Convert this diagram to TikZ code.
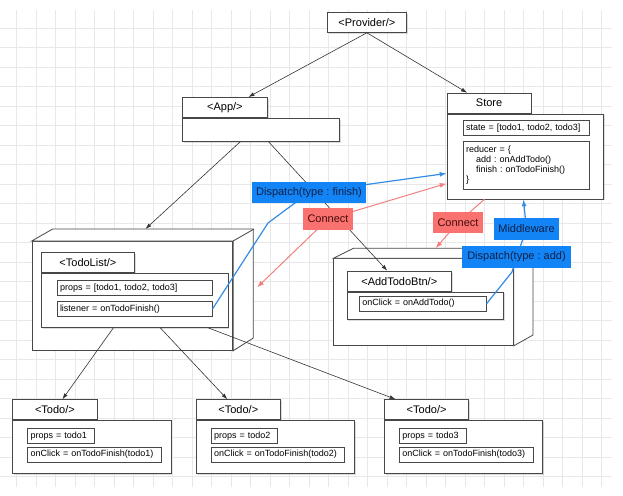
\documentclass[tikz,border=0pt]{standalone}
\usepackage{fontspec}
\setmainfont{Liberation Sans}
\frenchspacing
\usetikzlibrary{arrows.meta,shadows}
\definecolor{tagblue}{RGB}{18,132,245}
\definecolor{lineblue}{RGB}{52,140,228}
\definecolor{tagred}{RGB}{250,114,112}
\definecolor{linered}{RGB}{242,128,126}
\definecolor{tagtext}{RGB}{16,32,70}
\definecolor{redtext}{RGB}{70,12,12}

\begin{document}
\begin{tikzpicture}[x=1pt,y=-1pt,
            gridline/.style={draw=black!9,line width=0.5pt},
            boxline/.style={draw=black!72,line width=0.8pt,fill=white},
            softshadow/.style={drop shadow={opacity=0.28,shadow xshift=1.2pt,shadow yshift=-1.5pt}},
            tab/.style={boxline,softshadow,anchor=north west,inner sep=0pt,minimum height=20pt,font=\fontsize{11}{13}\selectfont},
            body/.style={boxline,softshadow,anchor=north west,inner sep=0pt},
            cube/.style={boxline,anchor=north west,inner sep=0pt},
            field/.style={draw=black!72,line width=0.6pt,fill=white,anchor=north west,inner sep=3pt,align=left,minimum height=15pt,font=\fontsize{9}{10}\selectfont},
            link/.style={draw=black!80,line width=0.6pt,-{Latex[length=6pt,width=4pt]}},
            bluelink/.style={draw=lineblue,line width=1.2pt},
            redlink/.style={draw=linered,line width=1pt},
            bluetag/.style={fill=tagblue,text=tagtext,inner xsep=4pt,inner ysep=0pt,minimum height=21.6pt,font=\fontsize{11}{13}\selectfont},
            redtag/.style={fill=tagred,text=redtext,inner xsep=4.5pt,inner ysep=0pt,minimum height=21.6pt,font=\fontsize{11}{13}\selectfont}]
            \useasboundingbox (0,0) rectangle (623,495);
            \foreach \gx in {0,...,30}
                \draw[gridline] ({16.7+19.5*\gx},10) -- ({16.7+19.5*\gx},487);
            \foreach \gy in {0,...,23}
                \draw[gridline] (0,{28+19.5*\gy}) -- (612,{28+19.5*\gy});

            \node[tab,minimum width=79pt] (provider) at (327,12) {<Provider/>};

            \node[tab,minimum width=85pt] (apptab) at (182,97) {<App/>};
            \node[body,minimum width=157pt,minimum height=23pt] (appbody) at (apptab.south west) {};

            \node[tab,minimum width=84pt] (storetab) at (446.7,92.7) {Store};
            \node[body,minimum width=156.6pt,minimum height=85pt] (storebody) at (storetab.south west) {};
            \node[field,text width=120.6pt] (state) at (462.7,120) {state = [todo1, todo2, todo3]};
            \node[field,text width=120.6pt,minimum height=48pt] (reducer) at (462.7,141)
                {reducer = \{\\\hspace*{10pt}add : onAddTodo()\\\hspace*{10pt}finish : onTodoFinish()\\\}};

            \node[cube,minimum width=200.6pt,minimum height=109pt] (listcube) at (31.7,241) {};
            \filldraw[boxline] (listcube.north west) -- ++(21,-12) -- ++(200.6,0) -- ++(0,109)
                -- (listcube.south east) -- (listcube.north east) -- cycle;
            \draw[boxline] (listcube.north east) -- ++(21,-12);
            \node[tab,minimum width=93pt] (listtab) at (41,252.3) {<TodoList/>};
            \node[body,minimum width=186.7pt,minimum height=54pt] (listbody) at (listtab.south west) {};
            \node[field,text width=149.3pt] (props) at (56.7,280) {props = [todo1, todo2, todo3]};
            \node[field,text width=149.3pt] (listener) at (56.7,301) {listener = onTodoFinish()};

            \node[cube,minimum width=179.7pt,minimum height=86.7pt] (addcube) at (333.3,258.3) {};
            \filldraw[boxline] (addcube.north west) -- ++(20,-10) -- ++(179.7,0) -- ++(0,86.7)
                -- (addcube.south east) -- (addcube.north east) -- cycle;
            \draw[boxline] (addcube.north east) -- ++(20,-10);
            \node[tab,minimum width=104.3pt] (addtab) at (346.7,270.7) {<AddTodoBtn/>};
            \node[body,minimum width=156.6pt,minimum height=27.3pt] (addbody) at (addtab.south west) {};
            \node[field,text width=121pt,minimum height=14.7pt] (onclick) at (359,296) {onClick = onAddTodo()};

            \foreach \tx/\tn in {12.3/1,195.7/2,384/3} {
                \node[tab,minimum width=84.4pt] (todotab\tn) at (\tx,399.3) {<Todo/>};
                \node[body,minimum width=158.4pt,minimum height=53pt] (todobody\tn) at (todotab\tn.south west) {};
                \node[field,text width=60.7pt,minimum height=14.4pt] (todoprops\tn) at ({\tx+15},428.3) {props = todo\tn};
                \node[field,text width=127.6pt] (todoclick\tn) at ({\tx+15},446.7) {onClick = onTodoFinish(todo\tn)};
            }

            \draw[link] (provider.south) -- ([xshift=23.5pt]apptab.north);
            \draw[link] (provider.south) -- ([xshift=-22pt]storetab.north);
            \draw[link] ([xshift=-20.5pt]appbody.south) -- ([shift={(13,-12)}]listcube.north);
            \draw[link] ([xshift=7.5pt]appbody.south) -- ([xshift=-12pt]addtab.north);
            \foreach \sx/\ex/\tn in {-21.4/7.5/1,25.6/-11/2,73.6/-31/3}
                \draw[link] ([xshift=\sx pt]listbody.south) -- ([xshift=\ex pt]todotab\tn.north);

            \coordinate (finbend) at (268,223);
            \coordinate (finpos) at (309,192.5);
            \coordinate (conapos) at (328,219);
            \coordinate (conbpos) at (458,222.5);
            \coordinate (addbend) at (512,272);
            \coordinate (addpos) at (516.5,257);
            \coordinate (midpos) at (526.5,229);

            \draw[redlink,{Latex[length=7pt,width=5pt]}-{Latex[length=7pt,width=5pt]}]
                ([yshift=-27pt]storebody.west) -- (conapos) -- ([shift={(24,-8.5)}]listcube.east);
            \draw[redlink,-{Latex[length=7pt,width=5pt]}]
                ([xshift=-41pt]storebody.south) -- (conbpos) -- ([shift={(12,-10)}]addcube.north);
            \draw[bluelink,-{Latex[length=7pt,width=5pt]}]
                (listener.east) -- (finbend) -- (finpos) -- ([yshift=-17pt]storebody.west);
            \draw[bluelink,-{Latex[length=7pt,width=5pt]}]
                (onclick.east) -- (addbend) -- (addpos) -- (midpos) -- ([xshift=-2pt]storebody.south);

            \node[bluetag] (dispfinish) at (finpos) {Dispatch(type : finish)};
            \node[redtag] (connecta) at (conapos) {Connect};
            \node[redtag] (connectb) at (conbpos) {Connect};
            \node[bluetag] (middleware) at (midpos) {Middleware};
            \node[bluetag,inner xsep=5.5pt] (dispadd) at (addpos) {Dispatch(type : add)};
        \end{tikzpicture}
\end{document}
